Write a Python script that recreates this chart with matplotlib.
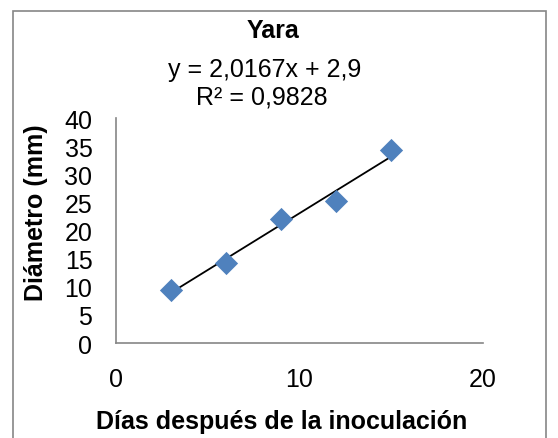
import matplotlib
matplotlib.use("Agg")
import matplotlib.pyplot as plt
from matplotlib.patches import Rectangle

# data
dias = [3, 6, 9, 12, 15]
diametro = [9.5, 14.2, 22.0, 25.3, 34.4]
pendiente = 2.0167
intercepto = 2.9
r2 = 0.9828

plt.rcParams["font.family"] = ["Liberation Sans", "DejaVu Sans"]

fig = plt.figure(figsize=(5.58, 4.39), dpi=100)
ax = fig.add_axes([0.2079, 0.2164, 0.6577, 0.5125])

# trendline
xt = [min(dias), max(dias)]
yt = [pendiente * x + intercepto for x in xt]
ax.plot(xt, yt, color="black", lw=1.3, zorder=2)
ax.scatter(dias, diametro, marker="D", s=140, color="#4F81BD", zorder=3, linewidths=0)

ax.set_xlim(0, 20)
ax.set_ylim(0, 40)
ax.set_xticks([0, 10, 20])
ax.set_yticks(range(0, 41, 5))
ax.tick_params(length=0, labelsize=18)
ax.tick_params(axis="x", pad=17)
ax.tick_params(axis="y", pad=17)
for s in ["top", "right"]:
    ax.spines[s].set_visible(False)
for s in ["left", "bottom"]:
    ax.spines[s].set_color("#868686")
    ax.spines[s].set_linewidth(1.2)

fig.text(0.489, 0.929, "Yara", ha="center", va="center", fontsize=18, fontweight="bold")
fig.text(0.475, 0.84, f"y = {pendiente:.4f}x + {intercepto}".replace(".", ","),
         ha="center", va="center", fontsize=18)
fig.text(0.47, 0.779, f"R² = {r2}".replace(".", ","), ha="center", va="center", fontsize=18)

fig.text(0.0645, 0.515, "Diámetro (mm)", rotation=90, ha="center", va="center",
         fontsize=18, fontweight="bold")
fig.text(0.505, 0.039, "Días después de la inoculación", ha="center", va="center",
         fontsize=18, fontweight="bold")

# chart border
fig.patches.append(Rectangle((0.024, -0.05), 0.955, 1.023, transform=fig.transFigure,
                             fill=False, edgecolor="#868686", lw=1.2))

fig.savefig("out.png", dpi=100)
